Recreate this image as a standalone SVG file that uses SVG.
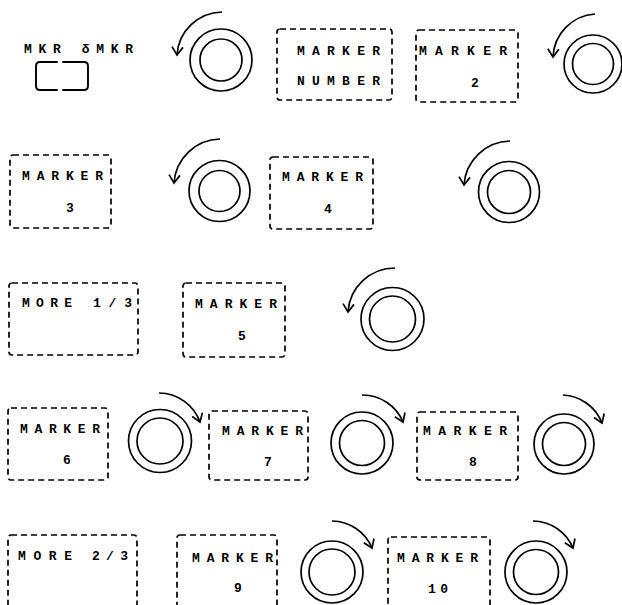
<svg xmlns="http://www.w3.org/2000/svg" width="622" height="605" viewBox="0 0 622 605">
<defs>
<style>
.box{fill:none;stroke:#000;stroke-width:1.7;stroke-dasharray:6 4}
.knob{fill:none;stroke:#000;stroke-width:1.7}
.arr{fill:none;stroke:#000;stroke-width:1.7;marker-end:url(#vh)}
.key{fill:none;stroke:#000;stroke-width:1.9;stroke-linecap:round;stroke-linejoin:round}
text{font-family:"Liberation Mono","DejaVu Sans Mono",monospace;font-weight:bold;font-size:13px;fill:#000}
.c{text-anchor:middle}
</style>
<marker id="vh" viewBox="-10 -7 12 14" markerWidth="12" markerHeight="14" refX="0" refY="0" orient="auto" markerUnits="userSpaceOnUse">
<path d="M-8,-5.5 L0,0 L-8,5.5" fill="none" stroke="#000" stroke-width="1.7"/>
</marker>
</defs>
<rect width="622" height="605" fill="#fff"/>

<g id="mkr-key">
<text x="24" y="53" textLength="109" lengthAdjust="spacing">MKR δMKR</text>
<path class="key" d="M57,62 H40 Q36,62 36,66 V86 Q36,90 40,90 H57"/>
<path class="key" d="M63,62 H84 Q88,62 88,66 V86 Q88,90 84,90 H63"/>
</g>

<g id="knob1"><circle class="knob" cx="221" cy="60" r="31"/><circle class="knob" cx="221" cy="60" r="21"/></g>
<g id="marker-number"><rect class="box" x="277" y="29" width="115" height="71" rx="3"/>
<text x="297" y="55" textLength="83" lengthAdjust="spacing">MARKER</text>
<text x="297" y="85" textLength="83" lengthAdjust="spacing">NUMBER</text></g>
<g id="marker2"><rect class="box" x="416" y="30" width="102" height="72" rx="3"/>
<text x="419" y="55" textLength="88" lengthAdjust="spacing">MARKER</text>
<text class="c" x="475" y="87">2</text></g>
<g id="knob2"><circle class="knob" cx="593" cy="64" r="29"/><circle class="knob" cx="593" cy="64" r="20.5"/></g>

<g id="marker3"><rect class="box" x="10" y="155" width="101" height="73" rx="3"/>
<text x="22" y="180" textLength="81" lengthAdjust="spacing">MARKER</text>
<text class="c" x="70" y="212">3</text></g>
<g id="knob3"><circle class="knob" cx="219.5" cy="191" r="30.5"/><circle class="knob" cx="219.5" cy="191" r="20.5"/></g>
<g id="marker4"><rect class="box" x="270" y="157" width="103" height="72" rx="3"/>
<text x="282" y="181" textLength="81" lengthAdjust="spacing">MARKER</text>
<text class="c" x="328" y="213">4</text></g>
<g id="knob4"><circle class="knob" cx="509" cy="192" r="30.5"/><circle class="knob" cx="509" cy="192" r="21.5"/></g>

<g id="more13"><rect class="box" x="9" y="283" width="129" height="72" rx="3"/>
<text x="22" y="307" textLength="50" lengthAdjust="spacing">MORE</text>
<text x="93" y="307" textLength="39" lengthAdjust="spacing">1/3</text></g>
<g id="marker5"><rect class="box" x="183" y="283" width="102" height="74" rx="3"/>
<text x="195" y="308" textLength="82" lengthAdjust="spacing">MARKER</text>
<text class="c" x="242" y="340">5</text></g>
<g id="knob5"><circle class="knob" cx="392.5" cy="319" r="31.5"/><circle class="knob" cx="392.5" cy="319" r="23"/></g>

<g id="marker6"><rect class="box" x="8" y="408" width="100" height="72" rx="3"/>
<text x="20" y="433" textLength="80" lengthAdjust="spacing">MARKER</text>
<text class="c" x="67" y="464">6</text></g>
<g id="knob6"><circle class="knob" cx="160" cy="441" r="31.5"/><circle class="knob" cx="160" cy="441" r="23"/></g>
<g id="marker7"><rect class="box" x="209" y="411" width="99" height="69" rx="3"/>
<text x="222" y="435" textLength="81" lengthAdjust="spacing">MARKER</text>
<text class="c" x="268" y="466">7</text></g>
<g id="knob7"><circle class="knob" cx="362" cy="443" r="31"/><circle class="knob" cx="362" cy="443" r="22.5"/></g>
<g id="marker8"><rect class="box" x="417" y="412" width="101" height="68" rx="3"/>
<text x="423" y="435" textLength="84" lengthAdjust="spacing">MARKER</text>
<text class="c" x="473" y="466">8</text></g>
<g id="knob8"><circle class="knob" cx="564" cy="444" r="30"/><circle class="knob" cx="564" cy="444" r="21.5"/></g>

<g id="more23"><rect class="box" x="8" y="535" width="129" height="90" rx="3"/>
<text x="18" y="560" textLength="54" lengthAdjust="spacing">MORE</text>
<text x="92" y="560" textLength="36" lengthAdjust="spacing">2/3</text></g>
<g id="marker9"><rect class="box" x="177" y="535" width="100" height="90" rx="3"/>
<text x="192" y="562" textLength="81" lengthAdjust="spacing">MARKER</text>
<text class="c" x="238" y="592">9</text></g>
<g id="knob9"><circle class="knob" cx="332" cy="572" r="31"/><circle class="knob" cx="332" cy="572" r="23"/></g>
<g id="marker10"><rect class="box" x="388" y="537" width="102" height="90" rx="3"/>
<text x="397" y="562" textLength="81" lengthAdjust="spacing">MARKER</text>
<text x="428" y="593" textLength="20" lengthAdjust="spacing">10</text></g>
<g id="knob10"><circle class="knob" cx="536" cy="572" r="31"/><circle class="knob" cx="536" cy="572" r="22.5"/></g>

<g id="connectors">
<path class="arr" d="M222,12 A46,46 0 0 0 177,55"/>
<path class="arr" d="M595,14 A45,45 0 0 0 553,57"/>
<path class="arr" d="M220,139 A47,47 0 0 0 174,183"/>
<path class="arr" d="M510,141 A47,47 0 0 0 464,185"/>
<path class="arr" d="M395,268 A47,47 0 0 0 348,312"/>
<path class="arr" d="M159,393 A44,44 0 0 1 200,422"/>
<path class="arr" d="M362,395 A44,44 0 0 1 403,422"/>
<path class="arr" d="M563,395 A44,44 0 0 1 602,423"/>
<path class="arr" d="M332,521 A44,44 0 0 1 372,548"/>
<path class="arr" d="M533,521 A44,44 0 0 1 573,548"/>
</g>
</svg>
